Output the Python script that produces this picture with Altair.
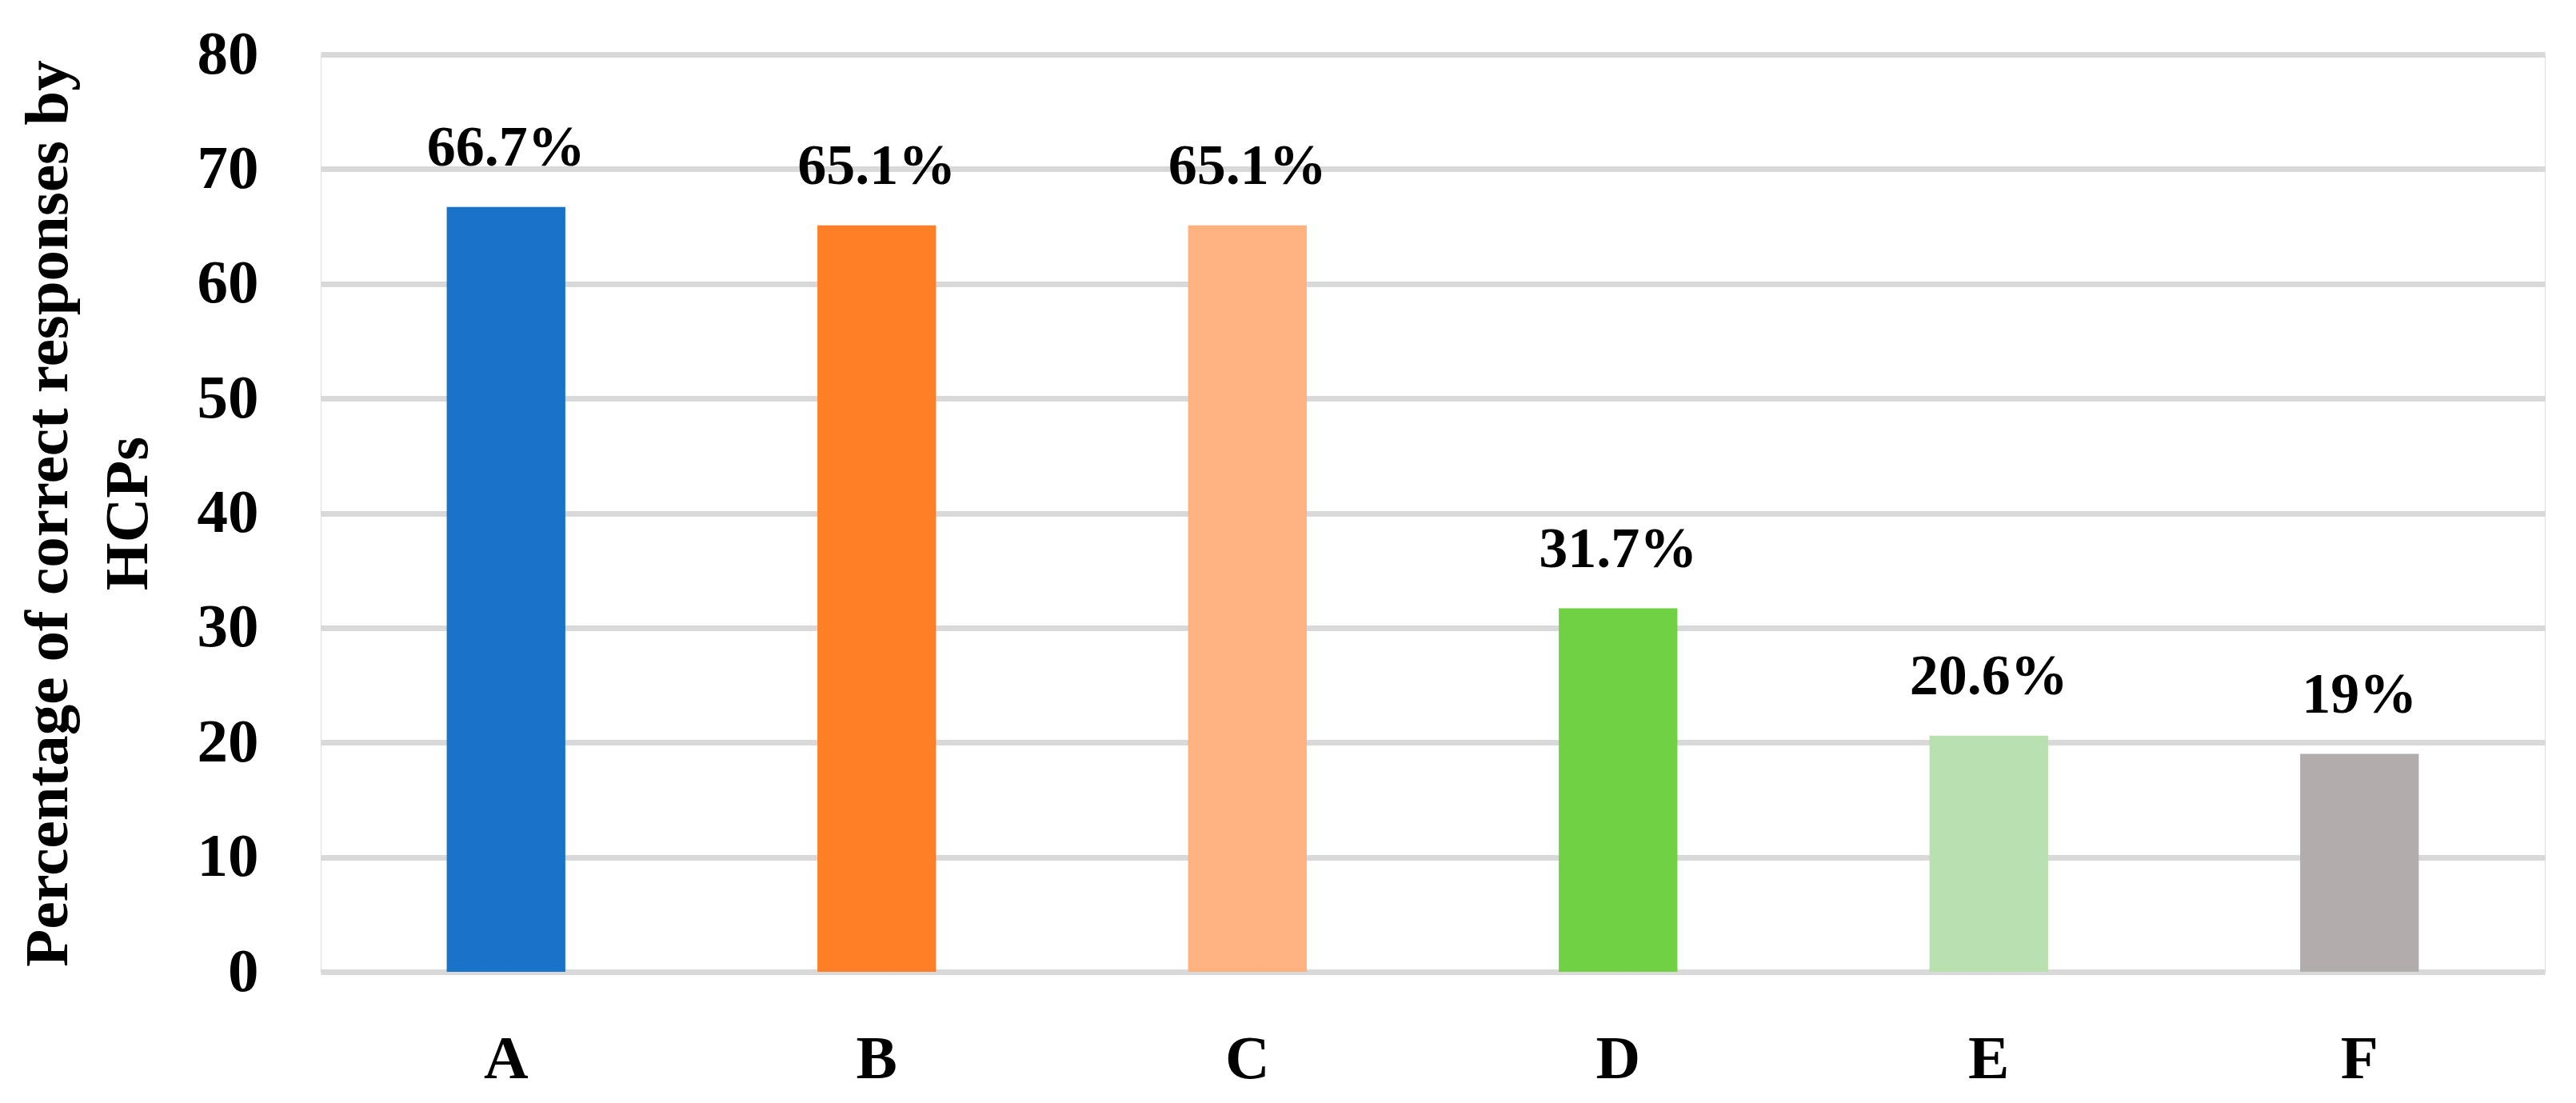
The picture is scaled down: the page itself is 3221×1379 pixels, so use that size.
import altair as alt
import pandas as pd

categories = ["A", "B", "C", "D", "E", "F"]
values = [66.7, 65.1, 65.1, 31.7, 20.6, 19.0]
value_labels = ["66.7%", "65.1%", "65.1%", "31.7%", "20.6%", "19%"]
bar_colors = ["#1A73C8", "#FF7F27", "#FFB27F", "#71D145", "#B9E0AF", "#B0ADAC"]
y_ticks = [0, 10, 20, 30, 40, 50, 60, 70, 80]
y_title = ["Percentage of correct responses by", "HCPs"]

FONT = "Liberation Serif"

df = pd.DataFrame({"cat": categories, "val": values, "label": value_labels})

x_enc = alt.X(
    "cat:N",
    sort=categories,
    scale=alt.Scale(paddingInner=0.68, paddingOuter=0.34),
    axis=alt.Axis(
        title=None,
        labelAngle=0,
        labelFont=FONT,
        labelFontSize=77,
        labelFontWeight="bold",
        labelColor="black",
        ticks=False,
        tickSize=0,
        domain=False,
        grid=False,
        labelPadding=71,
    ),
)

y_enc = alt.Y(
    "val:Q",
    scale=alt.Scale(domain=[0, 80], nice=False),
    axis=alt.Axis(
        values=y_ticks,
        title=y_title,
        titleFont=FONT,
        titleFontSize=77,
        titleFontWeight="bold",
        titleColor="black",
        titleLineHeight=100,
        titlePadding=47,
        labelFont=FONT,
        labelFontSize=77,
        labelFontWeight="bold",
        labelColor="black",
        labelPadding=78,
        ticks=False,
        tickSize=0,
        domain=False,
        grid=True,
        gridColor="#D9D9D9",
        gridWidth=7,
    ),
)

bars = alt.Chart(df).mark_bar().encode(
    x=x_enc,
    y=y_enc,
    color=alt.Color("cat:N", scale=alt.Scale(domain=categories, range=bar_colors), legend=None),
)

text = alt.Chart(df).mark_text(
    baseline="alphabetic",
    dy=-52,
    font=FONT,
    fontSize=72,
    fontWeight="bold",
    color="black",
).encode(
    x=alt.X("cat:N", sort=categories),
    y=alt.Y("val:Q"),
    text="label:N",
)

chart = (
    alt.layer(bars, text)
    .properties(
        width=2781,
        height=1147,
        autosize=alt.AutoSizeParams(type="none"),
        padding={"left": 393, "top": 60, "right": 20, "bottom": 162},
    )
    .configure_view(stroke=None)
    .configure(background="white")
)

chart.save("out.html", embed_options={"renderer": "svg", "actions": False})
